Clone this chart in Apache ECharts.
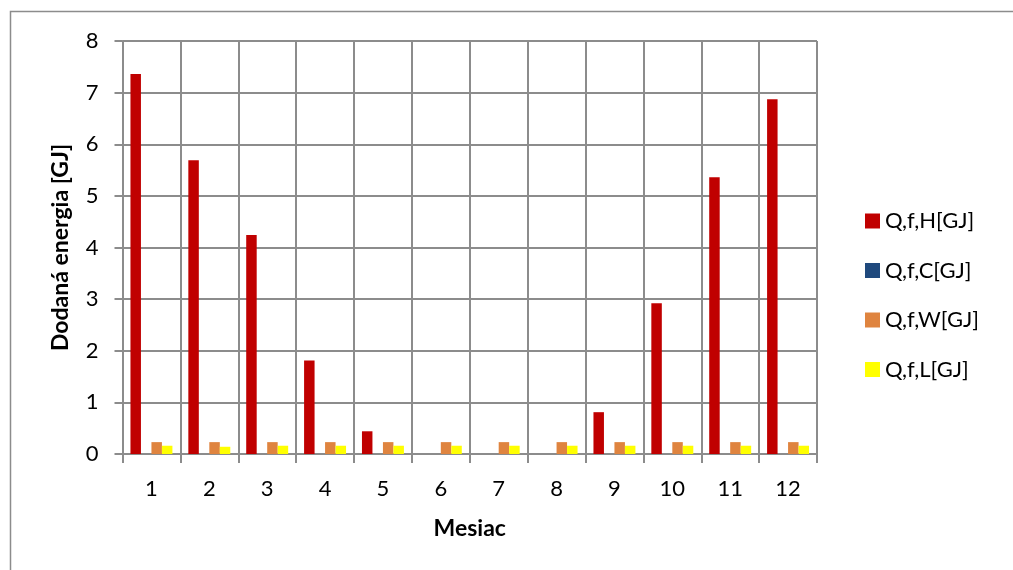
<!DOCTYPE html>
<html>
<head>
<meta charset="utf-8">
<script src="https://cdn.jsdelivr.net/npm/echarts@6/dist/echarts.min.js"></script>
<style>
  html, body { margin: 0; padding: 0; background: #fff; }
  #chart { width: 1013px; height: 570px; }
</style>
</head>
<body>
<div id="chart"></div>
<script>
// Months 1..12 and monthly delivered energy per end use [GJ]
const months = ['1', '2', '3', '4', '5', '6', '7', '8', '9', '10', '11', '12'];
const heating = [7.36, 5.69, 4.24, 1.81, 0.44, 0, 0, 0, 0.81, 2.92, 5.36, 6.87];
const cooling = [0, 0, 0, 0, 0, 0, 0, 0, 0, 0, 0, 0];
const hotWater = [0.23, 0.23, 0.23, 0.23, 0.23, 0.23, 0.23, 0.23, 0.23, 0.23, 0.23, 0.23];
const lighting = [0.16, 0.14, 0.16, 0.16, 0.16, 0.16, 0.16, 0.16, 0.16, 0.16, 0.16, 0.16];
const seriesNames = ['Q,f,H[GJ]', 'Q,f,C[GJ]', 'Q,f,W[GJ]', 'Q,f,L[GJ]'];
const seriesColors = ['#C00000', '#1F497D', '#DF843F', '#FFFF00'];

const FONT = 'Lato, "Open Sans", sans-serif';
const GRID_COLOR = '#8c8c8c';

const chart = echarts.init(document.getElementById('chart'), null, { renderer: 'canvas' });

const values = [heating, cooling, hotWater, lighting];
const series = values.map((data, i) => ({
  name: seriesNames[i],
  type: 'bar',
  data: data,
  barGap: '0%',
  barCategoryGap: '27.5%',
  itemStyle: { color: seriesColors[i] },
  animation: false
}));

chart.setOption({
  backgroundColor: '#fff',
  animation: false,
  graphic: [{
    type: 'rect',
    shape: { x: 10.5, y: 11.5, width: 1100, height: 700 },
    style: { fill: 'none', stroke: GRID_COLOR, lineWidth: 1.5 },
    silent: true,
    z: -1
  }],
  grid: { left: 122.5, right: 196, top: 41, bottom: 116, containLabel: false },
  legend: {
    orient: 'vertical',
    left: 860,
    top: 205,
    itemWidth: 15,
    itemHeight: 15,
    itemGap: 27.5,
    icon: 'rect',
    data: seriesNames,
    textStyle: { fontFamily: FONT, fontSize: 22, color: '#000', lineHeight: 15, padding: [0, 0, 0, 0] }
  },
  xAxis: {
    type: 'category',
    data: months,
    boundaryGap: true,
    name: 'Mesiac',
    nameLocation: 'middle',
    nameGap: 63,
    nameTextStyle: { fontFamily: FONT, fontSize: 23, fontWeight: 'bold', color: '#000' },
    axisLine: { show: true, lineStyle: { color: GRID_COLOR, width: 2 } },
    axisTick: { show: true, length: 9, lineStyle: { color: GRID_COLOR, width: 2 } },
    axisLabel: { fontFamily: FONT, fontSize: 22, color: '#000', margin: 24 },
    splitLine: { show: true, lineStyle: { color: GRID_COLOR, width: 2 } }
  },
  yAxis: {
    type: 'value',
    min: 0,
    max: 8,
    interval: 1,
    name: 'Dodaná energia [GJ]',
    nameLocation: 'middle',
    nameGap: 50,
    nameTextStyle: { fontFamily: FONT, fontSize: 23, fontWeight: 'bold', color: '#000' },
    axisLine: { show: true, lineStyle: { color: GRID_COLOR, width: 2 } },
    axisTick: { show: true, length: 8, lineStyle: { color: GRID_COLOR, width: 2 } },
    axisLabel: { fontFamily: FONT, fontSize: 22, color: '#000', margin: 24 },
    splitLine: { show: true, lineStyle: { color: GRID_COLOR, width: 2 } }
  },
  series: series
});
</script>
</body>
</html>
